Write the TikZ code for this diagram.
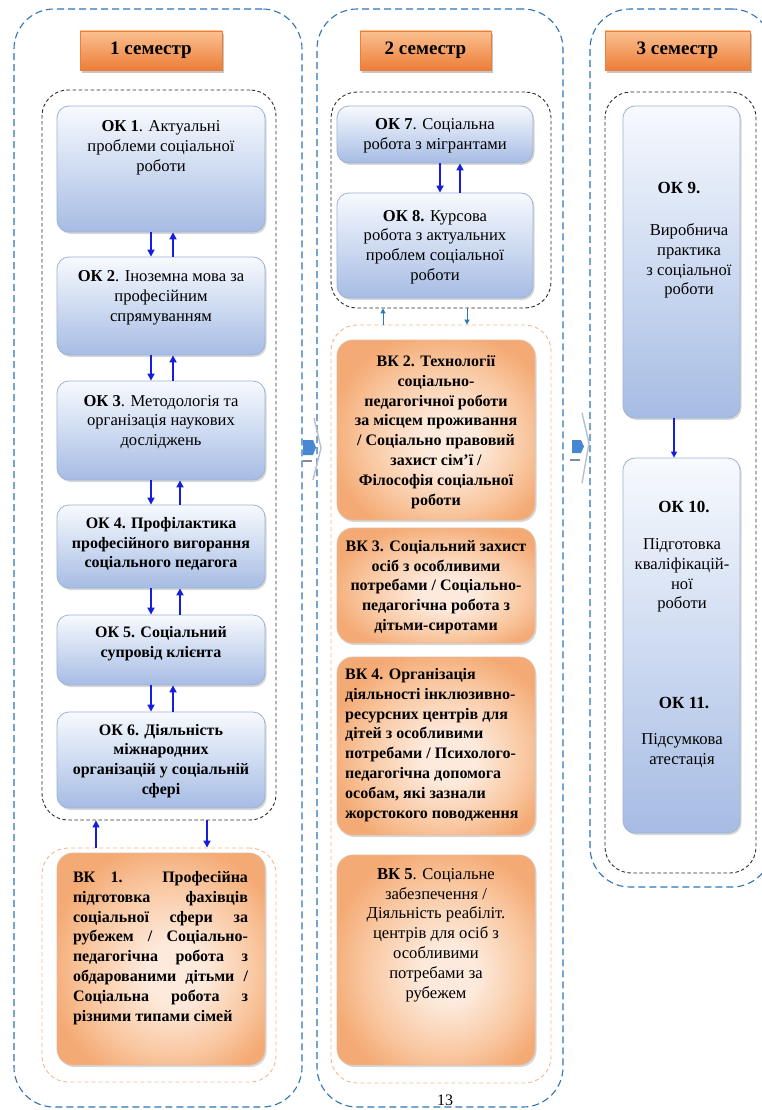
\documentclass[tikz,border=0pt]{standalone}
\usepackage{fontspec}
\setmainfont{Liberation Serif}
\usetikzlibrary{shadows,arrows.meta}

\definecolor{okTop}{RGB}{247,250,254}
\definecolor{okBot}{RGB}{166,188,228}
\definecolor{okLine}{RGB}{158,178,210}
\definecolor{vkIn}{RGB}{253,234,220}
\definecolor{vkMid}{RGB}{249,200,162}
\definecolor{vkOut}{RGB}{244,170,116}
\definecolor{vkLine}{RGB}{228,188,160}
\definecolor{hdTop}{RGB}{251,192,145}
\definecolor{hdBot}{RGB}{236,126,56}
\definecolor{colLine}{RGB}{46,117,182}
\definecolor{grpLine}{RGB}{45,45,45}
\definecolor{vkgLine}{RGB}{244,184,140}
\definecolor{arrBlue}{RGB}{20,30,220}
\definecolor{arrSteel}{RGB}{40,120,190}
\definecolor{chevLine}{RGB}{180,192,210}
\definecolor{chevBlue}{RGB}{72,136,210}
\definecolor{chevGrey}{RGB}{130,140,155}

\pgfdeclareradialshading{vkshade}{\pgfpoint{4bp}{-4bp}}{color(0bp)=(vkIn); color(7bp)=(vkIn); color(20bp)=(vkMid); color(29bp)=(vkOut); color(50bp)=(vkOut)}

\newcommand\mybody{\fontsize{16.6}{19.8}\selectfont}
\newcommand\mybold{\fontsize{16}{19.8}\selectfont\bfseries}
\newcommand\myhead{\fontsize{19}{22}\selectfont\bfseries}
\newcommand\jl[1]{\makebox[175pt][s]{#1}}

\tikzset{
  colbox/.style={draw=colLine, line width=1.1pt, dash pattern=on 7pt off 4pt, rounded corners=40pt, inner sep=0},
  grpbox/.style={draw=grpLine, line width=0.9pt, dash pattern=on 3.5pt off 2.5pt, rounded corners=26pt, inner sep=0},
  vkgbox/.style={draw=vkgLine, line width=0.9pt, dash pattern=on 4pt off 3pt, rounded corners=26pt, inner sep=0},
  hdbox/.style={top color=hdTop, bottom color=hdBot, draw=hdBot, line width=0.3pt, drop shadow={shadow xshift=1.5pt, shadow yshift=-3pt, opacity=0.45}, inner sep=0, font=\myhead},
  okbox/.style={rounded corners=12pt, draw=okLine, line width=0.8pt, top color=okTop, bottom color=okBot, drop shadow={shadow xshift=1.5pt, shadow yshift=-2pt, opacity=0.3}, inner sep=0},
  vkbox/.style={rounded corners=16pt, draw=vkLine, line width=0.8pt, shade, shading=vkshade, drop shadow={shadow xshift=1.5pt, shadow yshift=-2pt, opacity=0.3}, inner sep=0},
  txt/.style={inner sep=0, align=center, font=\mybody},
  btxt/.style={inner sep=0, align=center, font=\mybold},
  arr/.style={draw=arrBlue, line width=1.6pt, -{Triangle[length=7pt,width=7pt]}},
  arrt/.style={draw=arrBlue, line width=1.2pt, -{Triangle[length=6pt,width=6pt]}},
  sarr/.style={draw=arrSteel, line width=1pt, -{Triangle[length=5pt,width=5pt]}},
}

\begin{document}
\begin{tikzpicture}[x=1pt,y=-1pt]
\useasboundingbox (0,0) rectangle (762,1110);
\clip (0,0) rectangle (762,1110);
\fill[white] (0,0) rectangle (762,1110);

% columns
\node[colbox, minimum width=288pt, minimum height=1098pt] (c1) at (158,558) {};
\node[colbox, minimum width=246pt, minimum height=1098pt] (c2) at (440,558) {};
\node[colbox, minimum width=182pt, minimum height=878pt] (c3) at (681,448) {};

% headers
\node[hdbox, minimum width=142pt, minimum height=39pt] (h1) at (151,50.5) {1 семестр};
\node[hdbox, minimum width=131pt, minimum height=39pt] (h2) at (425.5,50.5) {2 семестр};
\node[hdbox, minimum width=145pt, minimum height=39pt] (h3) at (677.5,50.5) {3 семестр};

% groups
\node[grpbox, minimum width=234pt, minimum height=730pt] (g1) at (159,455) {};
\node[grpbox, minimum width=220pt, minimum height=216pt] (g2) at (441,200) {};
\node[grpbox, minimum width=151pt, minimum height=781pt] (g3) at (680.5,482.5) {};
\node[vkgbox, minimum width=234pt, minimum height=234pt] (v1) at (159,965) {};
\node[vkgbox, minimum width=220pt, minimum height=758pt] (v2) at (441,704) {};

% column 1 boxes
\node[okbox, minimum width=208pt, minimum height=126pt] (ok1) at (161,169) {};
\node[okbox, minimum width=208pt, minimum height=98pt] (ok2) at (161,306) {};
\node[okbox, minimum width=208pt, minimum height=99pt] (ok3) at (161,430.5) {};
\node[okbox, minimum width=208pt, minimum height=83pt] (ok4) at (161,546.5) {};
\node[okbox, minimum width=208pt, minimum height=70pt] (ok5) at (161,650) {};
\node[okbox, minimum width=208pt, minimum height=96pt] (ok6) at (161,760) {};
\node[vkbox, minimum width=208pt, minimum height=212pt] (vk1) at (161,959) {};

\node[txt] (t1) at (161,148) {\textbf{ОК 1}. Актуальні\\проблеми соціальної\\роботи};
\node[txt] (t2) at (161,298) {\textbf{ОК 2}. Іноземна мова за\\професійним\\спрямуванням};
\node[txt] (t3) at (161,422) {\textbf{ОК 3}. Методологія та\\організація наукових\\досліджень};
\node[btxt] (t4) at (161,544) {ОК 4. Профілактика\\професійного вигорання\\соціального педагога};
\node[btxt] (t5) at (161,644) {ОК 5. Соціальний\\супровід клієнта};
\node[btxt] (t6) at (161,761) {ОК 6. Діяльність\\міжнародних\\організацій у соціальній\\сфері};
\node[btxt, align=left] (tv1) at (160.5,948) {\jl{ВК 1. Професійна}\\\jl{підготовка фахівців}\\\jl{соціальної сфери за}\\\jl{рубежем / Соціально-}\\\jl{педагогічна робота з}\\\jl{обдарованими дітьми /}\\\jl{Соціальна робота з}\\різними типами сімей};

% column 2 boxes
\node[okbox, minimum width=196pt, minimum height=57pt] (ok7) at (435,134.5) {};
\node[okbox, minimum width=196pt, minimum height=105pt] (ok8) at (435,245.5) {};
\node[vkbox, minimum width=198pt, minimum height=180pt] (vk2) at (436,430) {};
\node[vkbox, minimum width=198pt, minimum height=115pt] (vk3) at (436,585.5) {};
\node[vkbox, minimum width=198pt, minimum height=178pt] (vk4) at (436,746) {};
\node[vkbox, minimum width=198pt, minimum height=210pt] (vk5) at (436,960) {};

\node[txt] (t7) at (435,136) {\textbf{ОК 7}. Соціальна\\робота з мігрантами};
\node[txt] (t8) at (435,247) {\textbf{ОК 8.} Курсова\\робота з актуальних\\проблем соціальної\\роботи};
\node[btxt] (tv2) at (436,432) {ВК 2. Технології\\соціально-\\педагогічної роботи\\за місцем проживання\\/ Соціально правовий\\захист сім'ї /\\Філософія соціальної\\роботи};
\node[btxt] (tv3) at (436,587) {ВК 3. Соціальний захист\\осіб з особливими\\потребами / Соціально-\\педагогічна робота з\\дітьми-сиротами};
\node[btxt, align=left, anchor=west] (tv4) at (345,745) {ВК 4. Організація\\діяльності інклюзивно-\\ресурсних центрів для\\дітей з особливими\\потребами / Психолого-\\педагогічна допомога\\особам, які зазнали\\жорстокого поводження};
\node[txt] (tv5) at (436,935) {\textbf{ВК 5}. Соціальне\\забезпечення /\\Діяльність реабіліт.\\центрів для осіб з\\особливими\\потребами за\\рубежем};

% column 3 boxes
\node[okbox, minimum width=117pt, minimum height=312pt] (ok9) at (681.5,262) {};
\node[okbox, minimum width=117pt, minimum height=375pt] (ok10) at (681.5,645.5) {};

\node[btxt, font=\fontsize{17}{20}\selectfont\bfseries] (l9) at (679,188) {ОК 9.};
\node[txt] (t9) at (689,261) {Виробнича\\практика\\з соціальної\\роботи};
\node[btxt, font=\fontsize{17}{20}\selectfont\bfseries] (l10) at (684,507) {ОК 10.};
\node[txt] (t10) at (682,575.5) {Підготовка\\кваліфікацій-\\ної\\роботи};
\node[btxt, font=\fontsize{17}{20}\selectfont\bfseries] (l11) at (684,703) {ОК 11.};
\node[txt] (t11) at (682,751) {Підсумкова\\атестація};

% arrows column 1
\draw[arr] ([xshift=-10pt]ok1.south) -- ([xshift=-10pt]ok2.north);
\draw[arr] ([xshift=12pt]ok2.north) -- ([xshift=12pt]ok1.south);
\draw[arr] ([xshift=-10pt]ok2.south) -- ([xshift=-10pt]ok3.north);
\draw[arr] ([xshift=12pt]ok3.north) -- ([xshift=12pt]ok2.south);
\draw[arr] ([xshift=-10pt]ok3.south) -- ([xshift=-10pt]ok4.north);
\draw[arr] ([xshift=19pt]ok4.north) -- ([xshift=19pt]ok3.south);
\draw[arr] ([xshift=-10pt]ok4.south) -- ([xshift=-10pt]ok5.north);
\draw[arr] ([xshift=19pt]ok5.north) -- ([xshift=19pt]ok4.south);
\draw[arr] ([xshift=-10pt]ok5.south) -- ([xshift=-10pt]ok6.north);
\draw[arr] ([xshift=12pt]ok6.north) -- ([xshift=12pt]ok5.south);
\draw[arr] ([xshift=-63pt]v1.north) -- ([xshift=-63pt]g1.south);
\draw[arr] ([xshift=48pt]g1.south) -- ([xshift=48pt]v1.north);

% arrows column 2
\draw[arr] ([xshift=5pt]ok7.south) -- ([xshift=5pt]ok8.north);
\draw[arr] ([xshift=25pt]ok8.north) -- ([xshift=25pt]ok7.south);
\draw[sarr] ([xshift=-58pt]v2.north) -- ([xshift=-58pt]g2.south);
\draw[sarr] ([xshift=26pt]g2.south) -- ([xshift=26pt]v2.north);

% arrow column 3
\draw[arrt] ([xshift=-7.5pt]ok9.south) -- ([xshift=-7.5pt]ok10.north);

% chevrons between columns
\draw[chevLine, line width=1.4pt] (314,418) -- (321,448) -- (313,480);
\fill[chevBlue] (303,440) -- (313,440) -- (316,447.5) -- (313,455) -- (303,455) -- cycle;
\draw[chevGrey, line width=2pt] (303,461) -- (312,461);
\draw[chevLine, line width=1.4pt] (582,413) -- (589,443) -- (582,483);
\fill[chevBlue] (572,440) -- (581,440) -- (584,446.5) -- (581,453) -- (572,453) -- cycle;
\draw[chevGrey, line width=2pt] (570,460) -- (580,460);

% page number
\node[inner sep=0, font=\fontsize{16}{18}\selectfont] (pg) at (445,1100) {13};
\end{tikzpicture}
\end{document}
